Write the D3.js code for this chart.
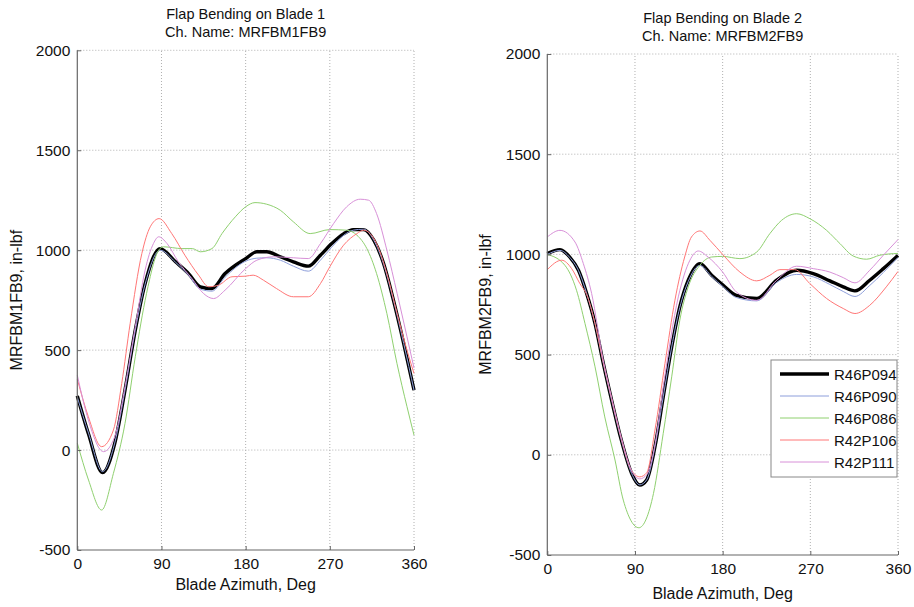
<!DOCTYPE html>
<html><head><meta charset="utf-8">
<script src="https://cdn.jsdelivr.net/npm/d3@7"></script>
<style>body{margin:0;background:#fff}svg{display:block}text{font-family:"Liberation Sans",Arial,sans-serif;fill:#111}</style>
</head><body><svg id="c" width="914" height="607"></svg>
<script>
// ---- data ----
const seriesNames = ["R46P094","R46P090","R46P086","R42P106","R42P111"];
const xTicks = [0,90,180,270,360];
const yTicks = [-500,0,500,1000,1500,2000];

// Blade 1
const b1_R46P094_az = [0,12,27,40,51,62,72.5,88.6,105,119,131.5,144,158,180,192,202.5,217,231,247,260,272,285,295,306,317,327.5,338,349,360];
const b1_R46P094    = [271,80,-113,33,300,600,833,1008,942,883,817,808,883,958,992,992,967,942,920,975,1033,1083,1103,1103,1050,933,750,533,300];
const b1_R46P090_az = [0,12,27,40,51,62,72.5,88.6,105,119,131.5,144,158,180,192,202.5,217,231,247,260,272,285,295,306,317,327.5,338,349,360];
const b1_R46P090    = [265,85,-108,35,300,600,830,1000,940,875,805,795,865,945,960,962,950,920,895,950,1015,1075,1100,1105,1050,930,750,533,300];
const b1_R46P086_az = [0,12,26,38.6,51,62,74,87,92,112,123,131.5,144,154.7,169,180,190,202.5,217,231,249,270,288,299,309.6,320,331,341.8,352.5,360];
const b1_R46P086    = [35,-150,-300,-117,133,467,783,1000,1017,1008,1008,992,1008,1083,1167,1217,1238,1230,1200,1142,1083,1103,1100,1075,1008,883,683,433,217,75];
const b1_R42P106_az = [0,11.8,26,38.6,47.5,56.5,69,78,87.5,101,115,129.7,140.4,151,165.4,180,188,199,213,231,247,260,270,284.7,299,306,320,331,342,352.5,360];
const b1_R42P106    = [355,167,17,100,333,633,983,1117,1158,1083,975,875,817,825,867,870,875,850,808,767,767,833,917,1025,1083,1100,1033,883,683,500,383];
const b1_R42P111_az = [0,11.8,28,40,51,62,72.5,81.4,87,96,108,122.6,135,145.7,158,180,192,210,231,247,260,274,288,302.5,311.5,320,331,342,352.5,360];
const b1_R42P111    = [375,150,-8,67,317,617,900,1033,1067,1033,942,858,783,758,800,908,950,967,962,958,1033,1133,1217,1255,1250,1183,1000,783,567,410];

// Blade 2
const b2_R46P094_az = [0,13,23,32,40.4,49,57.5,66,76,86.6,95,102,110.5,119,127.7,136,144.7,156.7,168.7,180.6,194,215,235.4,256,273,290,303.8,315.8,331,345,360];
const b2_R46P094    = [1004,1024,987,921,805,655,456,273,73,-93,-151,-126,40,289,538,738,871,954,896,846,796,780,871,921,904,868,838,818,871,929,995];
const b2_R46P090_az = [0,13,23,32,40.4,49,57.5,66,76,86.6,95,102,110.5,119,127.7,136,144.7,156.7,168.7,180.6,194,215,235.4,256,273,290,303.8,315.8,331,345,360];
const b2_R46P090    = [1000,1020,985,920,805,655,456,273,73,-93,-150,-125,40,289,538,735,865,945,890,838,785,768,860,900,888,850,815,790,845,910,985];
const b2_R46P086_az = [0,18,30,38.7,49,59,69.5,78,94,109,119,127.7,136,144.7,156.7,168.7,180,197.7,215,228.5,240.5,256,269.6,286.7,300.4,314,327.8,341.4,360];
const b2_R46P086    = [1000,946,821,655,439,189,-26,-226,-364,-193,107,389,671,838,946,987,990,979,1012,1104,1170,1203,1178,1120,1054,992,976,996,1005];
const b2_R42P106_az = [0,14.8,25,33.5,40.4,49,57.5,66,76,86.6,95,102,110.5,120.8,131,141,148,156.7,167,180,197.7,215,228.5,238.8,254,269.6,286.7,303.8,315.8,331,348,360];
const b2_R42P106    = [924,971,929,854,800,655,460,280,80,-80,-110,-90,123,456,771,987,1087,1117,1070,1000,912,868,896,924,924,854,780,730,705,746,838,915];
const b2_R42P111_az = [0,13,28.4,37,45.5,57.5,66,76,86.6,95,102,110.5,119,134.5,146.4,155,165,180,194,215,235.4,256,273,290,303.8,315.8,331,345,360];
const b2_R42P111    = [1087,1120,1062,954,805,470,285,85,-80,-120,-100,50,339,788,971,1017,987,912,813,771,871,941,929,912,884,858,921,996,1074];

const colors = ["#000000","#8d9edb","#8fd06f","#ff7676","#d890d8"];
const widths = [3.4,1,1,1,1];
const FS_TITLE = 14.5, FS_TICK = 15.5, FS_LABEL = 16, FS_LEG = 15;

const panels = [
  {title:["Flap Bending on Blade 1","Ch. Name: MRFBM1FB9"], ylabel:"MRFBM1FB9, in-lbf",
   x0:77.3, x1:414, y0:550, y1:50.3, titleY:[19,37], xlabY:590, ylabX:22,
   series:[[b1_R46P094_az,b1_R46P094],[b1_R46P090_az,b1_R46P090],[b1_R46P086_az,b1_R46P086],[b1_R42P106_az,b1_R42P106],[b1_R42P111_az,b1_R42P111]], legend:false},
  {title:["Flap Bending on Blade 2","Ch. Name: MRFBM2FB9"], ylabel:"MRFBM2FB9, in-lbf",
   x0:547.3, x1:898, y0:555, y1:54, titleY:[23,41], xlabY:599, ylabX:491,
   series:[[b2_R46P094_az,b2_R46P094],[b2_R46P090_az,b2_R46P090],[b2_R46P086_az,b2_R46P086],[b2_R42P106_az,b2_R42P106],[b2_R42P111_az,b2_R42P111]], legend:true}
];

const fmt = d => String(d);
const svg = d3.select("#c");
panels.forEach(p=>{
  const x = d3.scaleLinear().domain([0,360]).range([p.x0,p.x1]);
  const y = d3.scaleLinear().domain([-500,2000]).range([p.y0,p.y1]);
  const g = svg.append("g");
  // grid
  g.selectAll(".gx").data(xTicks.slice(1)).join("line")
    .attr("x1",d=>x(d)).attr("x2",d=>x(d)).attr("y1",p.y0).attr("y2",p.y1)
    .attr("stroke","#b0b0b0").attr("stroke-width",1).attr("stroke-dasharray","1,2");
  g.selectAll(".gy").data(yTicks.slice(1)).join("line")
    .attr("x1",p.x0).attr("x2",p.x1).attr("y1",d=>y(d)).attr("y2",d=>y(d))
    .attr("stroke","#b0b0b0").attr("stroke-width",1).attr("stroke-dasharray","1,2");
  // lines
  const line = d3.line().x(d=>x(d[0])).y(d=>y(d[1])).curve(d3.curveMonotoneX);
  p.series.forEach((s,i)=>{
    const pts = s[0].map((a,k)=>[a,s[1][k]]);
    g.append("path").attr("d",line(pts)).attr("fill","none")
      .attr("stroke",colors[i]).attr("stroke-width",widths[i]).attr("stroke-linejoin","round");
  });
  // axes
  const ax = g.append("g").attr("transform",`translate(0,${p.y0})`)
    .call(d3.axisBottom(x).tickValues(xTicks).tickFormat(fmt).tickSize(-4).tickPadding(8));
  const ay = g.append("g").attr("transform",`translate(${p.x0},0)`)
    .call(d3.axisLeft(y).tickValues(yTicks).tickFormat(fmt).tickSize(-4).tickPadding(7));
  [ax,ay].forEach(a=>{
    a.select(".domain").attr("stroke","#666").attr("stroke-width",1.2);
    a.selectAll(".tick line").attr("stroke","#666");
    a.selectAll(".tick text").attr("font-size",FS_TICK).attr("fill","#111")
      .attr("font-family","'Liberation Sans',Arial,sans-serif");
  });
  ax.select(".domain").attr("d",`M${p.x0},0H${p.x1}`);
  ay.select(".domain").attr("d",`M0,${p.y0}V${p.y1}`);
  // titles
  const cx = (p.x0+p.x1)/2;
  p.title.forEach((t,i)=>g.append("text").attr("x",cx).attr("y",p.titleY[i])
    .attr("text-anchor","middle").attr("font-size",FS_TITLE).text(t));
  g.append("text").attr("x",cx).attr("y",p.xlabY).attr("text-anchor","middle")
    .attr("font-size",FS_LABEL).text("Blade Azimuth, Deg");
  g.append("text").attr("transform",`translate(${p.ylabX},${(p.y0+p.y1)/2}) rotate(-90)`)
    .attr("text-anchor","middle").attr("font-size",FS_LABEL).text(p.ylabel);
  // legend
  if(p.legend){
    const lx=771, ly=360, lw=126, lh=117;
    const lg = g.append("g");
    lg.append("rect").attr("x",lx).attr("y",ly).attr("width",lw).attr("height",lh)
      .attr("fill","#fff").attr("stroke","#888").attr("stroke-width",1);
    seriesNames.forEach((n,i)=>{
      const yy = ly+14+i*22;
      lg.append("line").attr("x1",lx+9).attr("x2",lx+58).attr("y1",yy).attr("y2",yy)
        .attr("stroke",colors[i]).attr("stroke-width",widths[i]);
      lg.append("text").attr("x",lx+63).attr("y",yy+5.5).attr("font-size",FS_LEG).text(n);
    });
  }
});
</script></body></html>
